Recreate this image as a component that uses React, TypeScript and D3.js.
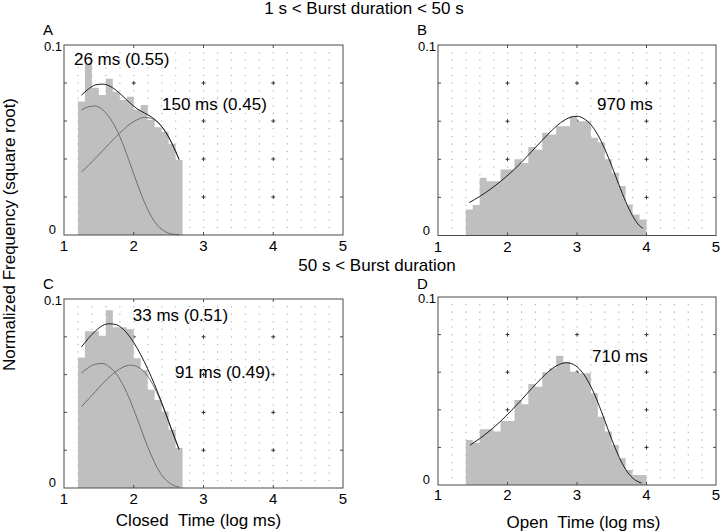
import React from 'react';
import * as d3 from 'd3';

// ---- data ----
const binWidth = 0.1;
const closedBins = [1.2, 1.3, 1.4, 1.5, 1.6, 1.7, 1.8, 1.9, 2.0, 2.1, 2.2, 2.3, 2.4, 2.5, 2.6];
const openBins = [1.4, 1.5, 1.6, 1.7, 1.8, 1.9, 2.0, 2.1, 2.2, 2.3, 2.4, 2.5, 2.6, 2.7, 2.8, 2.9, 3.0, 3.1, 3.2, 3.3, 3.4, 3.5, 3.6, 3.7, 3.8, 3.9];

const freqA = [0.0702, 0.09, 0.0775, 0.0737, 0.0823, 0.0754, 0.0711, 0.0728, 0.066, 0.0684, 0.0605, 0.0567, 0.0544, 0.048, 0.0395];
const freqB = [0.0136, 0.016, 0.0303, 0.0285, 0.0285, 0.0346, 0.0346, 0.04, 0.0381, 0.0464, 0.045, 0.0539, 0.053, 0.0574, 0.0574, 0.0626, 0.06, 0.06, 0.0513, 0.049, 0.04, 0.033, 0.026, 0.0163, 0.011, 0.0084];
const freqC = [0.069, 0.083, 0.083, 0.0805, 0.094, 0.085, 0.085, 0.084, 0.0687, 0.0625, 0.052, 0.0466, 0.0405, 0.031, 0.0211];
const freqD = [0.0239, 0.0225, 0.0296, 0.0296, 0.0284, 0.034, 0.034, 0.0452, 0.043, 0.0537, 0.0523, 0.06, 0.0621, 0.0688, 0.0656, 0.0603, 0.0594, 0.0594, 0.0488, 0.0363, 0.0284, 0.0213, 0.0142, 0.008, 0.0053, 0.0053];

const fitXClosed = [1.25, 1.35, 1.45, 1.55, 1.65, 1.75, 1.85, 1.95, 2.05, 2.15, 2.25, 2.35, 2.45, 2.55, 2.65];
const fitATotal = [0.0736, 0.0768, 0.079, 0.0794, 0.0785, 0.0761, 0.0728, 0.0694, 0.0664, 0.0643, 0.0622, 0.0592, 0.0546, 0.048, 0.0397];
const fitAFast = [0.0657, 0.0675, 0.0679, 0.066, 0.062, 0.0557, 0.0473, 0.0373, 0.027, 0.0175, 0.0099, 0.0047, 0.0018, 0.0005, 0.0001];
const fitASlow = [0.0332, 0.0366, 0.0404, 0.0442, 0.0481, 0.0519, 0.0554, 0.0585, 0.0607, 0.0619, 0.0614, 0.059, 0.0546, 0.048, 0.0397];

const fitCTotal = [0.0746, 0.0792, 0.083, 0.0859, 0.0869, 0.0864, 0.084, 0.0797, 0.0739, 0.0669, 0.0589, 0.05, 0.0403, 0.0302, 0.0204];
const fitCFast = [0.0609, 0.0637, 0.0655, 0.0659, 0.0641, 0.0604, 0.0543, 0.0462, 0.0366, 0.0266, 0.0174, 0.0098, 0.0047, 0.0018, 0.0005];
const fitCSlow = [0.043, 0.047, 0.051, 0.0551, 0.0587, 0.0618, 0.064, 0.065, 0.0642, 0.0614, 0.0563, 0.049, 0.04, 0.0301, 0.0204];

const fitXB = [1.45, 1.6, 1.75, 1.9, 2.05, 2.2, 2.35, 2.5, 2.65, 2.8, 2.9, 3.0, 3.1, 3.2, 3.3, 3.4, 3.5, 3.6, 3.7, 3.8, 3.9, 3.95];
const fitB = [0.0173, 0.0205, 0.0242, 0.0284, 0.0331, 0.0384, 0.0442, 0.05, 0.0556, 0.0601, 0.062, 0.0626, 0.0613, 0.0582, 0.0528, 0.0454, 0.0365, 0.0269, 0.0178, 0.0103, 0.0051, 0.0037];

const fitXD = [1.46, 1.6, 1.75, 1.9, 2.05, 2.2, 2.35, 2.5, 2.65, 2.75, 2.85, 2.95, 3.05, 3.15, 3.25, 3.35, 3.45, 3.55, 3.65, 3.75, 3.85, 3.93];
const fitD = [0.0212, 0.0247, 0.029, 0.0339, 0.0394, 0.0453, 0.0514, 0.0572, 0.0621, 0.0642, 0.065, 0.0641, 0.0611, 0.0558, 0.0484, 0.0392, 0.0292, 0.0196, 0.0115, 0.0057, 0.0023, 0.001];

const xTicks = [1, 2, 3, 4, 5];
const yTickLabels = ['0', '0.1'];

const FONT = 'Liberation Sans, Arial, sans-serif';

type Box = { left: number; right: number; top: number; bottom: number };
type Curve = { xs: number[]; ys: number[]; color: string };
type Note = { x: number; y: number; text: string };

function Panel({ box, letter, letterY, bins, freq, curves, notes, xLabelY }: {
  box: Box; letter: string; letterY: number; bins: number[]; freq: number[]; curves: Curve[]; notes: Note[]; xLabelY: number;
}) {
  const x = d3.scaleLinear().domain([1, 5]).range([box.left, box.right]);
  const y = d3.scaleLinear().domain([0, 0.1]).range([box.bottom, box.top]);

  const stepPts: [number, number][] = bins.map((b, i) => [b, freq[i]]);
  stepPts.push([bins[bins.length - 1] + binWidth, freq[freq.length - 1]]);
  const area = d3.area<[number, number]>()
    .x(d => x(d[0]))
    .y0(y(0))
    .y1(d => y(d[1]))
    .curve(d3.curveStepAfter);

  const line = d3.line<[number, number]>()
    .x(d => x(d[0]))
    .y(d => y(d[1]))
    .curve(d3.curveMonotoneX);

  const dots: JSX.Element[] = [];
  for (let i = 1; i < 20; i++) {
    const xv = 1 + i * 0.2;
    for (let j = 1; j < 25; j++) {
      const yv = j * 0.004;
      const px = x(xv), py = y(yv);
      const major = i % 5 === 0 && j % 5 === 0;
      if (major) {
        dots.push(<path key={`m${i}-${j}`} d={`M${px - 2},${py}H${px + 2}M${px},${py - 2}V${py + 2}`} stroke="#333" strokeWidth={1} />);
      } else {
        dots.push(<rect key={`d${i}-${j}`} x={px - 0.5} y={py - 0.5} width={1.2} height={1.2} fill="#b4b4b4" />);
      }
    }
  }

  const yMajor = [0.02, 0.04, 0.06, 0.08];
  const xMajor = [2, 3, 4];

  return (
    <g>
      <text x={box.left - 21} y={letterY} fontSize={15} fontFamily={FONT}>{letter}</text>
      {dots}
      <path d={area(stepPts) || ''} fill="#bfbfbf" />
      {curves.map((c, k) => (
        <path key={k} d={line(c.xs.map((xv, i) => [xv, c.ys[i]] as [number, number])) || ''}
          fill="none" stroke={c.color} strokeWidth={1} />
      ))}
      <rect x={box.left} y={box.top} width={box.right - box.left} height={box.bottom - box.top}
        fill="none" stroke="#4a4a4a" strokeWidth={1} />
      {yMajor.map(v => (
        <g key={`yt${v}`}>
          <line x1={box.left} x2={box.left + 3} y1={y(v)} y2={y(v)} stroke="#4a4a4a" />
          <line x1={box.right - 3} x2={box.right} y1={y(v)} y2={y(v)} stroke="#4a4a4a" />
        </g>
      ))}
      {xMajor.map(v => (
        <g key={`xt${v}`}>
          <line x1={x(v)} x2={x(v)} y1={box.bottom} y2={box.bottom - 3} stroke="#4a4a4a" />
          <line x1={x(v)} x2={x(v)} y1={box.top} y2={box.top + 3} stroke="#4a4a4a" />
        </g>
      ))}
      {xTicks.map(t => (
        <text key={`xl${t}`} x={x(t)} y={xLabelY} textAnchor="middle" fontSize={15} fontFamily={FONT}>{t}</text>
      ))}
      <text x={box.left - 8} y={y(0) - 1} textAnchor="end" fontSize={13} fontFamily={FONT}>{yTickLabels[0]}</text>
      <text x={box.left - 2} y={y(0.1) + 6} textAnchor="end" fontSize={13} fontFamily={FONT}>{yTickLabels[1]}</text>
      {notes.map((n, k) => (
        <text key={`n${k}`} x={x(n.x)} y={y(n.y)} fontSize={17} fontFamily={FONT}>{n.text}</text>
      ))}
    </g>
  );
}

export default function App() {
  const boxA: Box = { left: 64, right: 343, top: 45, bottom: 235 };
  const boxB: Box = { left: 438, right: 716, top: 45, bottom: 235.5 };
  const boxC: Box = { left: 64, right: 343, top: 299, bottom: 488 };
  const boxD: Box = { left: 438, right: 716, top: 297, bottom: 485 };
  const dark = '#1a1a1a';
  const comp = '#6e6e6e';
  return (
    <div style={{ position: 'absolute', left: 0, top: 0 }}>
      <svg width={720} height={532} style={{ display: 'block', background: '#fff' }}>
        <rect x={0} y={0} width={720} height={532} fill="#fff" />
        <text x={364} y={14} textAnchor="middle" fontSize={17} fontFamily={FONT}>1 s &lt; Burst duration &lt; 50 s</text>
        <text x={377} y={271} textAnchor="middle" fontSize={17} fontFamily={FONT}>50 s &lt; Burst duration</text>
        <Panel box={boxA} letter="A" letterY={35} bins={closedBins} freq={freqA} xLabelY={251}
          curves={[
            { xs: fitXClosed, ys: fitAFast, color: comp },
            { xs: fitXClosed, ys: fitASlow, color: comp },
            { xs: fitXClosed, ys: fitATotal, color: dark },
          ]}
          notes={[{ x: 1.143, y: 0.0897, text: '26 ms (0.55)' }, { x: 2.405, y: 0.0658, text: '150 ms (0.45)' }]} />
        <Panel box={boxB} letter="B" letterY={35} bins={openBins} freq={freqB} xLabelY={252}
          curves={[{ xs: fitXB, ys: fitB, color: dark }]}
          notes={[{ x: 3.288, y: 0.0659, text: '970 ms' }]} />
        <Panel box={boxC} letter="C" letterY={289} bins={closedBins} freq={freqC} xLabelY={504}
          curves={[
            { xs: fitXClosed, ys: fitCFast, color: comp },
            { xs: fitXClosed, ys: fitCSlow, color: comp },
            { xs: fitXClosed, ys: fitCTotal, color: dark },
          ]}
          notes={[{ x: 1.986, y: 0.0881, text: '33 ms (0.51)' }, { x: 2.59, y: 0.0582, text: '91 ms (0.49)' }]} />
        <Panel box={boxD} letter="D" letterY={289} bins={openBins} freq={freqD} xLabelY={500}
          curves={[{ xs: fitXD, ys: fitD, color: dark }]}
          notes={[{ x: 3.216, y: 0.0654, text: '710 ms' }]} />
        <text x={198.5} y={526} textAnchor="middle" fontSize={17} fontFamily={FONT} style={{ whiteSpace: 'pre' }}>Closed  Time (log ms)</text>
        <text x={583.5} y={528} textAnchor="middle" fontSize={17} fontFamily={FONT} style={{ whiteSpace: 'pre' }}>Open  Time (log ms)</text>
        <text transform="translate(15,234.5) rotate(-90)" textAnchor="middle" fontSize={17} fontFamily={FONT}>Normalized Frequency (square root)</text>
      </svg>
    </div>
  );
}
